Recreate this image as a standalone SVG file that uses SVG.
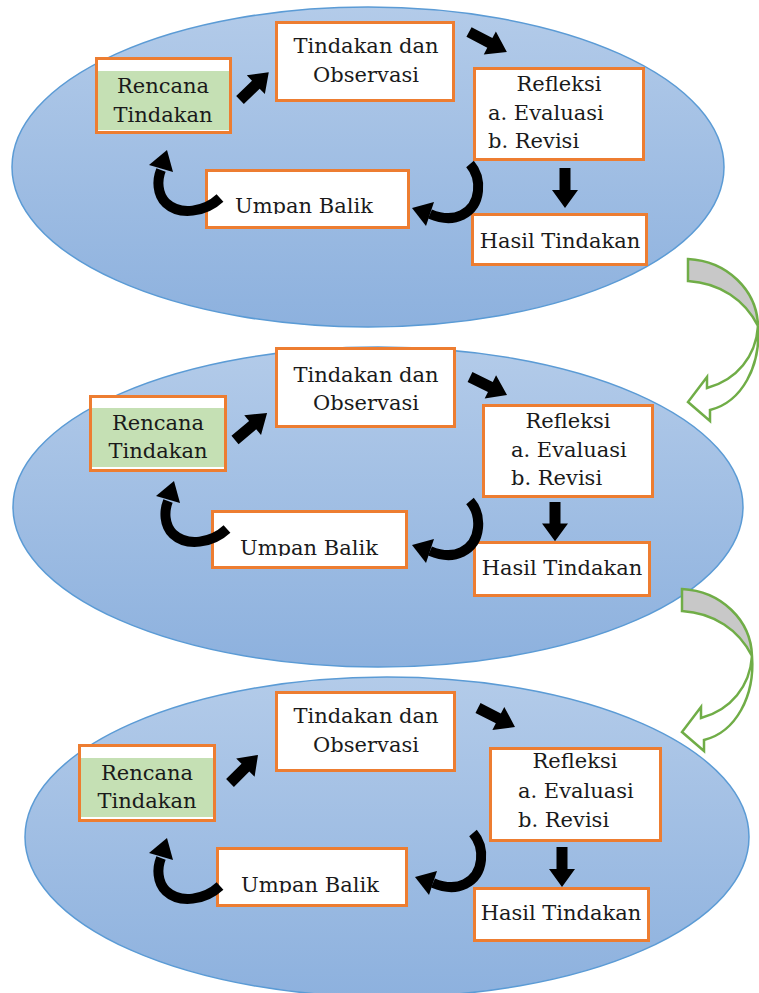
<svg xmlns="http://www.w3.org/2000/svg" xmlns:xlink="http://www.w3.org/1999/xlink" width="759" height="993" viewBox="0 0 759 993">
<style>
.ell{stroke:#5b9bd5;stroke-width:1.5;fill:url(#blueGrad)}
.box{fill:#ffffff;stroke:#ed7d31;stroke-width:3}
.green{fill:#c5e0b4}
.t{font-family:"DejaVu Serif","Liberation Serif",serif;font-size:21px;fill:#1a1a1a}
.c{text-anchor:middle}
.blk{fill:#000}
.crv{fill:none;stroke:#000;stroke-width:10}
.gback{fill:#c8c8c8;stroke:#70ad47;stroke-width:2.5;stroke-linejoin:miter}
.gfront{fill:#ffffff;stroke:#70ad47;stroke-width:2.5;stroke-linejoin:miter}
</style>
<defs>
<linearGradient id="blueGrad" x1="0" y1="0" x2="0" y2="1">
<stop offset="0" stop-color="#b3cbe9"/>
<stop offset="1" stop-color="#8db1de"/>
</linearGradient>
<path id="blkArrow" d="M0,-5.5 H22 V-13 L40,0 L22,13 V5.5 H0 Z"/>
<g id="curveRU">
<path class="crv" d="M470,164 C482,178 482,205 462,215 C452,220 442,219 430,214"/>
<polygon class="blk" points="412,208 434,202 426,226"/>
</g>
<g id="curveUR">
<path class="crv" d="M220,198 C205,212 180,216 166,203 C157,194 157,180 161,170"/>
<polygon class="blk" points="167,150 173,172 149,165"/>
</g>
<g id="greenArrow">
<path class="gback" d="M688,259 C727,261 757,290 758,326 C745,300 720,283 688,281 Z"/>
<path class="gfront" d="M758,326 C761,366 742,402 710,410 L710,421 L688,402 L707,377 L707,388 C737,380 756,356 758,326 Z"/>
</g>
<clipPath id="clipU1"><rect x="200" y="160" width="220" height="54"/></clipPath>
<clipPath id="clipU2"><rect x="200" y="500" width="220" height="56"/></clipPath>
<clipPath id="clipU3"><rect x="200" y="840" width="220" height="53"/></clipPath>
</defs>

<g id="backgrounds">
<ellipse id="cycle1-bg" class="ell" cx="368" cy="167" rx="356" ry="160"/>
<ellipse id="cycle2-bg" class="ell" cx="378" cy="507" rx="365" ry="160"/>
<ellipse id="cycle3-bg" class="ell" cx="387" cy="837" rx="362" ry="160"/>
</g>

<!-- Cycle 1 -->
<g id="c1-rencana">
<rect class="box" x="96.5" y="58.5" width="134" height="74"/>
<rect class="green" x="98" y="71" width="131" height="59"/>
<text class="t c" x="163" y="93">Rencana</text>
<text class="t c" x="163" y="122">Tindakan</text>
</g>
<g id="c1-tindakan">
<rect class="box" x="276.5" y="22.5" width="177" height="78"/>
<text class="t c" x="366" y="53">Tindakan dan</text>
<text class="t c" x="366" y="82">Observasi</text>
</g>
<g id="c1-refleksi">
<rect class="box" x="474.5" y="68.5" width="169" height="91"/>
<text class="t c" x="559" y="91">Refleksi</text>
<text class="t" x="488" y="120">a. Evaluasi</text>
<text class="t" x="488" y="148">b. Revisi</text>
</g>
<g id="c1-hasil">
<rect class="box" x="472.5" y="214.5" width="174" height="50"/>
<text class="t c" x="560" y="248">Hasil Tindakan</text>
</g>
<g id="c1-umpan">
<rect class="box" x="206.5" y="170.5" width="202" height="57"/>
<text class="t" x="235" y="213" clip-path="url(#clipU1)">Umpan Balik</text>
</g>

<!-- Cycle 2 -->
<g id="c2-rencana">
<rect class="box" x="90.5" y="396.5" width="135" height="74"/>
<rect class="green" x="92" y="408" width="132" height="59"/>
<text class="t c" x="158" y="430">Rencana</text>
<text class="t c" x="158" y="458">Tindakan</text>
</g>
<g id="c2-tindakan">
<rect class="box" x="276.5" y="348.5" width="178" height="78"/>
<text class="t c" x="366" y="382">Tindakan dan</text>
<text class="t c" x="366" y="410">Observasi</text>
</g>
<g id="c2-refleksi">
<rect class="box" x="483.5" y="405.5" width="169" height="91"/>
<text class="t c" x="568" y="428">Refleksi</text>
<text class="t" x="511" y="457">a. Evaluasi</text>
<text class="t" x="511" y="485">b. Revisi</text>
</g>
<g id="c2-hasil">
<rect class="box" x="474.5" y="542.5" width="175" height="53"/>
<text class="t c" x="562" y="575">Hasil Tindakan</text>
</g>
<g id="c2-umpan">
<rect class="box" x="212.5" y="511.5" width="194" height="56"/>
<text class="t" x="240" y="555" clip-path="url(#clipU2)">Umpan Balik</text>
</g>

<!-- Cycle 3 -->
<g id="c3-rencana">
<rect class="box" x="79.5" y="745.5" width="135" height="75"/>
<rect class="green" x="81" y="758" width="132" height="59"/>
<text class="t c" x="147" y="780">Rencana</text>
<text class="t c" x="147" y="808">Tindakan</text>
</g>
<g id="c3-tindakan">
<rect class="box" x="276.5" y="692.5" width="178" height="78"/>
<text class="t c" x="366" y="723">Tindakan dan</text>
<text class="t c" x="366" y="752">Observasi</text>
</g>
<g id="c3-refleksi">
<rect class="box" x="490.5" y="748.5" width="170" height="92"/>
<text class="t c" x="575" y="768">Refleksi</text>
<text class="t" x="518" y="798">a. Evaluasi</text>
<text class="t" x="518" y="827">b. Revisi</text>
</g>
<g id="c3-hasil">
<rect class="box" x="474.5" y="888.5" width="174" height="52"/>
<text class="t c" x="561" y="920">Hasil Tindakan</text>
</g>
<g id="c3-umpan">
<rect class="box" x="217.5" y="848.5" width="189" height="57"/>
<text class="t" x="241" y="892" clip-path="url(#clipU3)">Umpan Balik</text>
</g>

<g id="connectors">
<!-- cycle 1 -->
<use xlink:href="#blkArrow" class="blk" transform="translate(240,100) rotate(-44) scale(1.0,1)"/>
<use xlink:href="#blkArrow" class="blk" transform="translate(469,32) rotate(27.8) scale(1.07,1)"/>
<use xlink:href="#blkArrow" class="blk" transform="translate(565,168) rotate(90) scale(1.0,1)"/>
<use xlink:href="#curveRU"/>
<use xlink:href="#curveUR"/>
<!-- cycle 2 -->
<use xlink:href="#blkArrow" class="blk" transform="translate(235,440) rotate(-40.2) scale(1.05,1)"/>
<use xlink:href="#blkArrow" class="blk" transform="translate(470,377) rotate(26) scale(1.03,1)"/>
<use xlink:href="#blkArrow" class="blk" transform="translate(555,502) rotate(90) scale(0.98,1)"/>
<use xlink:href="#curveRU" transform="translate(0,337)"/>
<use xlink:href="#curveUR" transform="translate(7,331)"/>
<!-- cycle 3 -->
<use xlink:href="#blkArrow" class="blk" transform="translate(230,783) rotate(-45) scale(0.99,1)"/>
<use xlink:href="#blkArrow" class="blk" transform="translate(478,708) rotate(27.2) scale(1.04,1)"/>
<use xlink:href="#blkArrow" class="blk" transform="translate(562,847) rotate(90) scale(1.0,1)"/>
<use xlink:href="#curveRU" transform="translate(3,669)"/>
<use xlink:href="#curveUR" transform="translate(0,688)"/>
<!-- transitions between cycles -->
<use xlink:href="#greenArrow"/>
<use xlink:href="#greenArrow" transform="translate(-6,330)"/>
</g>
</svg>
